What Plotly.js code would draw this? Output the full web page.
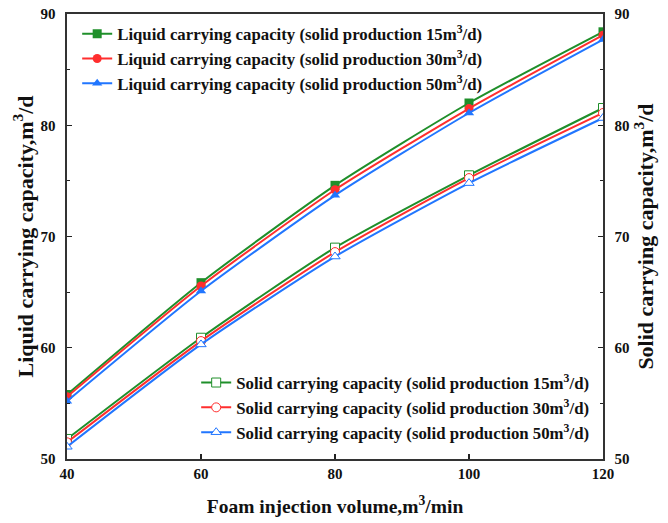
<!DOCTYPE html>
<html>
<head>
<meta charset="utf-8">
<script src="https://cdn.plot.ly/plotly-3.0.1.min.js"></script>
<style>html,body{margin:0;padding:0;background:#fff;}#chart{width:668px;height:523px;}</style>
</head>
<body>
<div id="chart"></div>
<script>
// Foam injection volume (m3/min)
const foamVolume = [40, 60, 80, 100, 120];

// Liquid carrying capacity (m3/d) at three solid production rates
const liquid15 = [55.8, 65.85, 74.6, 82.0, 88.4];
const liquid30 = [55.6, 65.55, 74.2, 81.5, 88.1];
const liquid50 = [55.2, 65.1, 73.7, 81.1, 87.7];

// Solid carrying capacity (m3/d) at three solid production rates
const solid15 = [51.8, 60.9, 69.0, 75.5, 81.55];
const solid30 = [51.5, 60.6, 68.6, 75.25, 81.1];
const solid50 = [51.1, 60.3, 68.2, 74.8, 80.65];

const yTicks = [50, 60, 70, 80, 90];
const xTicks = [40, 60, 80, 100, 120];

const GREEN = '#1f8f2a';
const RED = '#ff2e2e';
const BLUE = '#2176ff';
const FONT = 'Liberation Serif, Times New Roman, serif';

function liquidTrace(y, color, symbol, label) {
  return {
    x: foamVolume, y: y, type: 'scatter', mode: 'lines+markers',
    name: 'Liquid carrying capacity (solid production ' + label + 'm<sup>3</sup>/d)',
    line: {color: color, width: 2, shape: 'spline', smoothing: 0.6},
    marker: {color: color, symbol: symbol, size: 9},
    legend: 'legend', yaxis: 'y'
  };
}

function solidTrace(y, color, symbol, label) {
  return {
    x: foamVolume, y: y, type: 'scatter', mode: 'lines+markers',
    name: 'Solid carrying capacity (solid production ' + label + 'm<sup>3</sup>/d)',
    line: {color: color, width: 2, shape: 'spline', smoothing: 0.6},
    marker: {color: '#ffffff', symbol: symbol, size: 9, line: {color: color, width: 1}},
    legend: 'legend2', yaxis: 'y2'
  };
}

const traces = [
  liquidTrace(liquid15, GREEN, 'square', '15'),
  liquidTrace(liquid30, RED, 'circle', '30'),
  liquidTrace(liquid50, BLUE, 'triangle-up', '50'),
  solidTrace(solid15, GREEN, 'square', '15'),
  solidTrace(solid30, RED, 'circle', '30'),
  solidTrace(solid50, BLUE, 'triangle-up', '50')
];

const tickFont = {family: FONT, size: 15, color: '#111', weight: 'bold'};
const xTitleFont = {family: FONT, size: 19.5, color: '#111', weight: 'bold'};
const yTitleFont = {family: FONT, size: 22, color: '#111', weight: 'bold'};
const legendFont = {family: FONT, size: 16.8, color: '#111', weight: 'bold'};

const layout = {
  width: 668, height: 523,
  margin: {l: 67, r: 65, t: 14, b: 64},
  paper_bgcolor: '#fff', plot_bgcolor: '#fff',
  showlegend: true,
  xaxis: {
    range: [40, 120], tickvals: xTicks, ticks: 'inside', ticklen: 5, tickwidth: 1.2,
    tickcolor: '#222', showline: true, linecolor: '#333', linewidth: 1.6, mirror: true,
    showgrid: false, zeroline: false, tickfont: tickFont,
    title: {text: 'Foam injection volume,m<sup>3</sup>/min', font: xTitleFont, standoff: 19}
  },
  yaxis: {
    range: [50, 90], tickvals: yTicks, ticks: 'inside', ticklen: 5, tickwidth: 1.2,
    tickcolor: '#222', showline: true, linecolor: '#333', linewidth: 1.6,
    ticklabelstandoff: 7,
    minor: {dtick: 5, ticks: 'inside', ticklen: 3, tickcolor: '#222'},
    showgrid: false, zeroline: false, tickfont: tickFont,
    title: {text: 'Liquid carrying capacity,m<sup>3</sup>/d', font: yTitleFont, standoff: 1}
  },
  yaxis2: {
    range: [50, 90], tickvals: yTicks, ticks: 'inside', ticklen: 5, tickwidth: 1.2,
    tickcolor: '#222', overlaying: 'y', side: 'right', showline: true, linecolor: '#333', linewidth: 1.6,
    ticklabelstandoff: 7,
    minor: {dtick: 5, ticks: 'inside', ticklen: 3, tickcolor: '#222'},
    showgrid: false, zeroline: false, tickfont: tickFont,
    title: {text: 'Solid carrying capacity,m<sup>3</sup>/d', font: yTitleFont, standoff: 6}
  },
  legend: {
    x: 0.019, y: 0.995, xanchor: 'left', yanchor: 'top',
    bgcolor: 'rgba(0,0,0,0)', font: legendFont, tracegroupgap: 0, itemwidth: 30
  },
  legend2: {
    x: 0.241, y: 0.02, xanchor: 'left', yanchor: 'bottom',
    bgcolor: 'rgba(0,0,0,0)', font: legendFont, tracegroupgap: 0, itemwidth: 30
  }
};

Plotly.newPlot('chart', traces, layout, {displayModeBar: false, staticPlot: true});
</script>
</body>
</html>
